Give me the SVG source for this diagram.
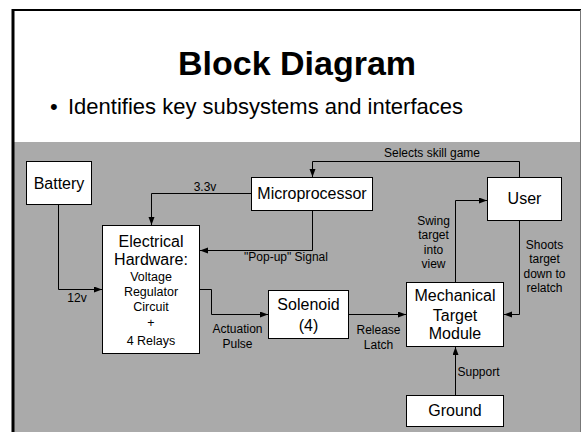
<svg xmlns="http://www.w3.org/2000/svg" width="581" height="432" viewBox="0 0 581 432">
<style>
text{font-family:"Liberation Sans",Arial,sans-serif;fill:#000}
.box{fill:#fff;stroke:#000;stroke-width:1}
.big{font-size:16px;text-anchor:middle}
.sub{font-size:12.5px;text-anchor:middle}
.lbl{font-size:12px;text-anchor:middle}
.con{fill:none;stroke:#000;stroke-width:1}
</style>
<defs>
<marker id="ah" markerUnits="userSpaceOnUse" markerWidth="9" markerHeight="7" refX="8" refY="3" orient="auto">
<path d="M0,0 L8,3 L0,6 z" fill="#000"/>
</marker>
</defs>
<rect x="0" y="0" width="581" height="432" fill="#fff"/>
<rect x="13" y="142" width="567" height="290" fill="#aaaaaa"/>
<line x1="13" y1="10" x2="581" y2="10" stroke="#000" stroke-width="2"/>
<line x1="13" y1="9" x2="13" y2="432" stroke="#000" stroke-width="3"/>
<line x1="580.5" y1="10" x2="580.5" y2="432" stroke="#777" stroke-width="1"/>
<text x="297" y="75" font-size="34" font-weight="bold" text-anchor="middle">Block Diagram</text>
<text x="50" y="114" font-size="22">•</text>
<text x="68" y="114" font-size="22">Identifies key subsystems and interfaces</text>
<g id="connectors">
<path class="con" d="M58.5,204 V289.5 H102" marker-end="url(#ah)"/>
<path class="con" d="M251.5,193.5 H151.5 V225" marker-end="url(#ah)"/>
<path class="con" d="M312.5,210.5 V250.5 H200" marker-end="url(#ah)"/>
<path class="con" d="M199.5,289.5 H211.5 V314.5 H268" marker-end="url(#ah)"/>
<path class="con" d="M348.5,314.5 H406" marker-end="url(#ah)"/>
<path class="con" d="M455.5,282 V200.5 H487" marker-end="url(#ah)"/>
<path class="con" d="M519.5,177.5 V161.5 H312.5 V177" marker-end="url(#ah)"/>
<path class="con" d="M519.5,220.5 V314.5 H504" marker-end="url(#ah)"/>
<path class="con" d="M455.5,395 V347" marker-end="url(#ah)"/>
<text class="lbl" x="205" y="190.5">3.3v</text>
<text class="lbl" x="432" y="157">Selects skill game</text>
<text class="lbl" x="286" y="261">"Pop-up" Signal</text>
<text class="lbl" x="77" y="302">12v</text>
<text class="lbl" x="237.5" y="332.5">Actuation</text>
<text class="lbl" x="237.5" y="347.5">Pulse</text>
<text class="lbl" x="378.5" y="333.5">Release</text>
<text class="lbl" x="378.5" y="348.5">Latch</text>
<text class="lbl" x="433.5" y="225">Swing</text>
<text class="lbl" x="433.5" y="239">target</text>
<text class="lbl" x="433.5" y="253.5">into</text>
<text class="lbl" x="433.5" y="268">view</text>
<text class="lbl" x="544.5" y="248.5">Shoots</text>
<text class="lbl" x="544.5" y="263">target</text>
<text class="lbl" x="544.5" y="277.5">down to</text>
<text class="lbl" x="544.5" y="292">relatch</text>
<text x="457.5" y="376" font-size="12">Support</text>
</g>
<g id="battery">
<rect class="box" x="26.5" y="161.5" width="65" height="43"/>
<text class="big" x="59" y="188.5">Battery</text>
</g>
<g id="microprocessor">
<rect class="box" x="251.5" y="177.5" width="121" height="33"/>
<text class="big" x="312" y="199">Microprocessor</text>
</g>
<g id="user">
<rect class="box" x="487.5" y="177.5" width="74" height="43"/>
<text class="big" x="524.5" y="204">User</text>
</g>
<g id="electrical">
<rect class="box" x="102.5" y="225.5" width="97" height="128"/>
<text class="big" x="151" y="246.5">Electrical</text>
<text class="big" x="151" y="265">Hardware:</text>
<text class="sub" x="151" y="281">Voltage</text>
<text class="sub" x="151" y="296">Regulator</text>
<text class="sub" x="151" y="311">Circuit</text>
<text class="sub" x="151" y="326.5">+</text>
<text class="sub" x="151" y="344.5">4 Relays</text>
</g>
<g id="solenoid">
<rect class="box" x="268.5" y="290.5" width="80" height="48"/>
<text class="big" x="308.5" y="310">Solenoid</text>
<text class="big" x="308.5" y="330.5">(4)</text>
</g>
<g id="mechanical">
<rect class="box" x="406.5" y="282.5" width="97" height="64"/>
<text class="big" x="455" y="301">Mechanical</text>
<text class="big" x="455" y="320.5">Target</text>
<text class="big" x="455" y="339">Module</text>
</g>
<g id="ground">
<rect class="box" x="406.5" y="395.5" width="97" height="31"/>
<text class="big" x="455" y="415.5">Ground</text>
</g>
</svg>
